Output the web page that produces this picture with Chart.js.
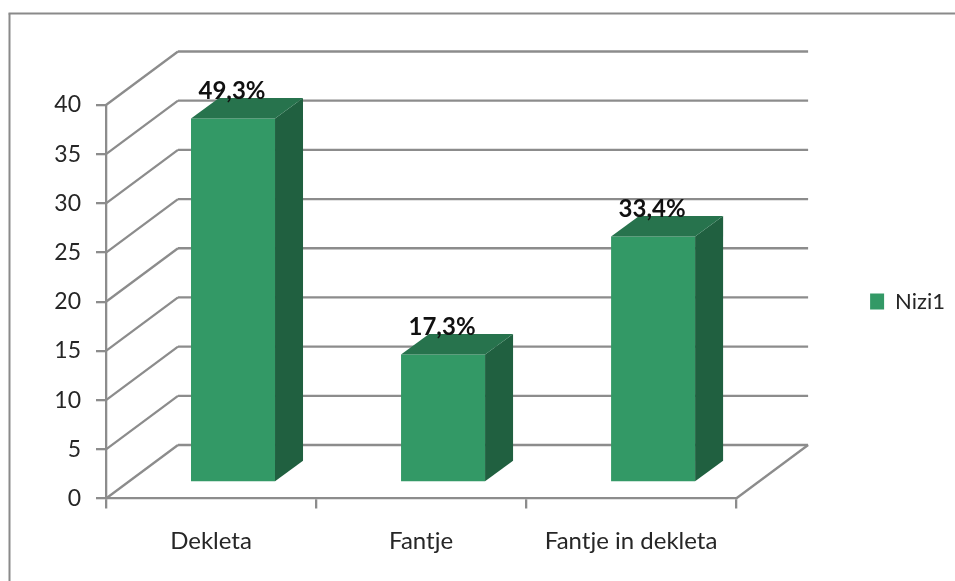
<!DOCTYPE html>
<html><head><meta charset="utf-8">
<style>html,body{margin:0;padding:0;background:#fff}#w{width:955px;height:581px}canvas{display:block;filter:blur(0.4px)}</style>
<script src="https://cdn.jsdelivr.net/npm/chart.js@4"></script>
</head><body><div id="w"><canvas id="c" width="955" height="581"></canvas></div>
<script>
const categories = ['Dekleta','Fantje','Fantje in dekleta'];
const seriesName = 'Nizi1';
const values = [37,13,25];
const pointLabels = ['49,3%','17,3%','33,4%'];
const yTicks = [0,5,10,15,20,25,30,35,40];

const FONT = 'Lato, "Open Sans", sans-serif';
const LINE = '#8c8c8c';
const FACE = '#339966', TOP = '#27734d', SIDE = '#206040';
const WALL = {dx:72, dy:-53.5}, SHIFT = {dx:22, dy:-16}, DEPTH = {dx:28, dy:-20.5};

function line(ctx,x1,y1,x2,y2){ctx.beginPath();ctx.moveTo(x1,y1);ctx.lineTo(x2,y2);ctx.stroke();}
function poly(ctx,pts,fill){ctx.fillStyle=fill;ctx.beginPath();pts.forEach((p,i)=>i?ctx.lineTo(p[0],p[1]):ctx.moveTo(p[0],p[1]));ctx.closePath();ctx.fill();}

const box3d = {
  id:'box3d',
  beforeDraw(chart){
    const c=chart.ctx; c.save(); c.strokeStyle='#8a8a8a'; c.lineWidth=2;
    line(c,9.5,581,9.5,13.5); line(c,8.5,13.5,955,13.5); c.restore();
  },
  beforeDatasetsDraw(chart){
    const c=chart.ctx,a=chart.chartArea,y=chart.scales.y;
    c.save(); c.strokeStyle=LINE; c.lineWidth=2.3;
    yTicks.forEach(v=>{
      const p=y.getPixelForValue(v);
      line(c,a.left,p,a.left+WALL.dx,p+WALL.dy);
      line(c,a.left+WALL.dx,p+WALL.dy,a.right+WALL.dx,p+WALL.dy);
    });
    line(c,a.right,a.bottom,a.right+WALL.dx,a.bottom+WALL.dy);
    c.restore();
    c.save();
    c.translate(SHIFT.dx,SHIFT.dy);
  },
  afterDatasetsDraw(chart){
    const c=chart.ctx; c.restore();
    const meta=chart.getDatasetMeta(0);
    meta.data.forEach((b,i)=>{
      const p=b.getProps(['x','y','base','width'],true);
      const l=p.x-p.width/2+SHIFT.dx, r=p.x+p.width/2+SHIFT.dx, t=p.y+SHIFT.dy, bt=p.base+SHIFT.dy;
      poly(c,[[r,t],[r+DEPTH.dx,t+DEPTH.dy],[r+DEPTH.dx,bt+DEPTH.dy],[r,bt]],SIDE);
      poly(c,[[l,t],[l+DEPTH.dx,t+DEPTH.dy],[r+DEPTH.dx,t+DEPTH.dy],[r,t]],TOP);
      c.save();
      c.fillStyle='#111'; c.font='bold 24px '+FONT; c.textAlign='center'; c.textBaseline='middle';
      c.fillText(pointLabels[i],(l+r)/2-1,t-27);
      c.restore();
    });
  }
};

new Chart(document.getElementById('c'),{
  type:'bar',
  data:{labels:categories,datasets:[{label:seriesName,data:values,backgroundColor:FACE,borderWidth:0,
    barPercentage:0.4,categoryPercentage:1}]},
  plugins:[box3d],
  options:{
    responsive:false,animation:false,
    layout:{padding:{left:0,top:22,right:0,bottom:0}},
    plugins:{tooltip:{enabled:false},title:{display:false},
      legend:{display:true,position:'right',
        labels:{boxWidth:14,boxHeight:16,padding:10,color:'#262626',font:{family:FONT,size:22}}}},
    scales:{
      x:{offset:true,
        grid:{display:true,drawOnChartArea:false,drawTicks:true,tickLength:10,color:LINE,lineWidth:2.3},
        border:{display:true,color:LINE,width:2.3},
        ticks:{color:'#262626',font:{family:FONT,size:24},padding:18,maxRotation:0},
        afterFit(s){s.height=82.5;}},
      y:{min:0,max:40,
        grid:{display:true,drawOnChartArea:false,drawTicks:true,tickLength:10,color:LINE,lineWidth:2.3},
        border:{display:true,color:LINE,width:2.3},
        ticks:{stepSize:5,color:'#262626',font:{family:FONT,size:23},padding:15},
        afterFit(s){s.width=106;}},
      gap:{position:'right',grid:{display:false},border:{display:false},ticks:{display:false},
        afterFit(s){s.width=124;}},
      gapTop:{position:'top',grid:{display:false},border:{display:false},ticks:{display:false},
        afterFit(s){s.height=83;}}
    }
  }
});
</script></body></html>
